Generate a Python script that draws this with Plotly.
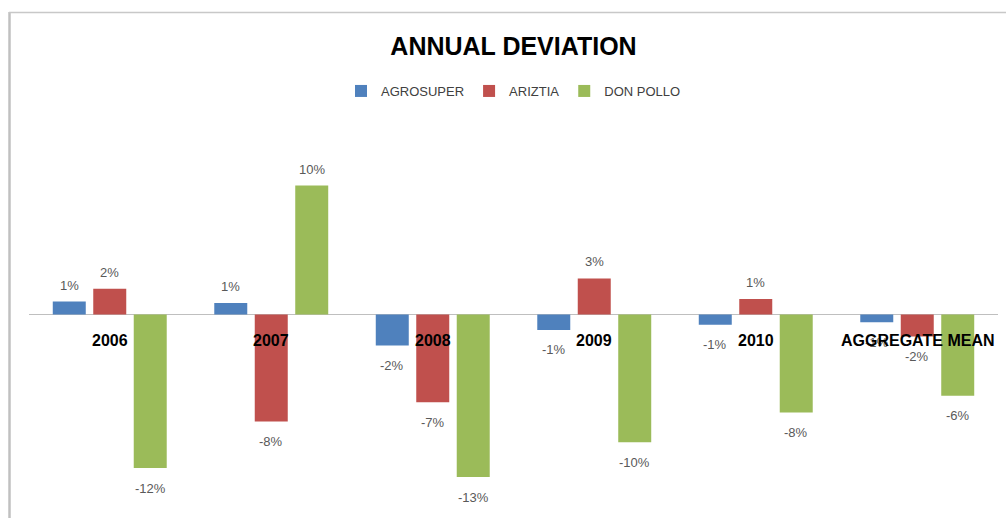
import plotly.graph_objects as go

categories = ["2006", "2007", "2008", "2009", "2010", "AGGREGATE MEAN"]
agrosuper = [0.010, 0.009, -0.024, -0.012, -0.008, -0.006]
ariztia = [0.020, -0.083, -0.068, 0.028, 0.012, -0.017]
don_pollo = [-0.119, 0.100, -0.126, -0.099, -0.076, -0.063]
series_names = ["AGROSUPER", "ARIZTIA", "DON POLLO"]
colors = ["#4f81bd", "#c0504d", "#9bbb59"]

W, H = 1006, 518
ML, MR, MT, MB = 29, 8, 121, 10
PW, PH = W - ML - MR, H - MT - MB
FONT = "Liberation Sans, Arial, sans-serif"
BARGAP, BARGROUPGAP = 0.248, 0.185

all_series = [agrosuper, ariztia, don_pollo]

fig = go.Figure()
for name, vals, col in zip(series_names, all_series, colors):
    fig.add_trace(go.Bar(
        name=name, x=categories, y=vals,
        marker=dict(color=col, line=dict(color=col, width=0)),
    ))

# value labels, offset like the original's data labels (slot width from bar layout)
n_ser = len(all_series)
slot_px = PW / len(categories) * (1 - BARGAP) / n_ser
for j, vals in enumerate(all_series):
    for i, v in enumerate(vals):
        fig.add_annotation(
            x=i, y=v, xref="x", yref="y", text=f"{v:.0%}", showarrow=False,
            xshift=(j - (n_ser - 1) / 2) * slot_px,
            yshift=16.5 if v >= 0 else -20, yanchor="middle",
            font=dict(family=FONT, size=13, color="#595959"))

# category labels drawn next to the zero line (category index positions)
for i, c in enumerate(categories):
    fig.add_annotation(x=i, y=0, xref="x", yref="y", text="<b>" + c + "</b>", showarrow=False,
                       yanchor="top", yshift=-15,
                       font=dict(family=FONT, size=16, color="#000000"))

def px_x(p):
    return (p - ML) / PW

def px_y(p):
    return (H - MB - p) / PH

# chart-area border (left and top edges visible)
fig.add_shape(type="line", xref="paper", yref="paper",
              x0=px_x(9.5), x1=px_x(9.5), y0=px_y(12), y1=px_y(H),
              line=dict(color="#c0c0c0", width=2.5))
fig.add_shape(type="line", xref="paper", yref="paper",
              x0=px_x(9), x1=px_x(W), y0=px_y(12.5), y1=px_y(12.5),
              line=dict(color="#c8c8c8", width=1.5))

fig.update_layout(
    width=W, height=H,
    margin=dict(l=ML, r=MR, t=MT, b=MB, autoexpand=False),
    paper_bgcolor="white", plot_bgcolor="white",
    barmode="group", bargap=BARGAP, bargroupgap=BARGROUPGAP,
    title=dict(text="<b>ANNUAL DEVIATION</b>", x=0.5, xref="paper", xanchor="center",
               y=1 - 46 / H, yref="container", yanchor="middle",
               font=dict(family=FONT, size=25, color="#000000")),
    legend=dict(orientation="h", x=0.5, xanchor="center", y=1 - 91 / H,
                yref="container", yanchor="middle",
                font=dict(family=FONT, size=13, color="#404040"),
                itemwidth=30, bgcolor="rgba(0,0,0,0)"),
    xaxis=dict(type="category", range=[-0.5, len(categories) - 0.5],
               showticklabels=False, showline=False, showgrid=False, ticks=""),
    yaxis=dict(range=[-0.15, 0.15], showticklabels=False, showgrid=False,
               zeroline=True, zerolinecolor="#bfbfbf", zerolinewidth=1, ticks=""),
    font=dict(family=FONT),
)

fig.write_html("out.html", config={"displayModeBar": False},
               post_script="document.body.style.margin='0';")
